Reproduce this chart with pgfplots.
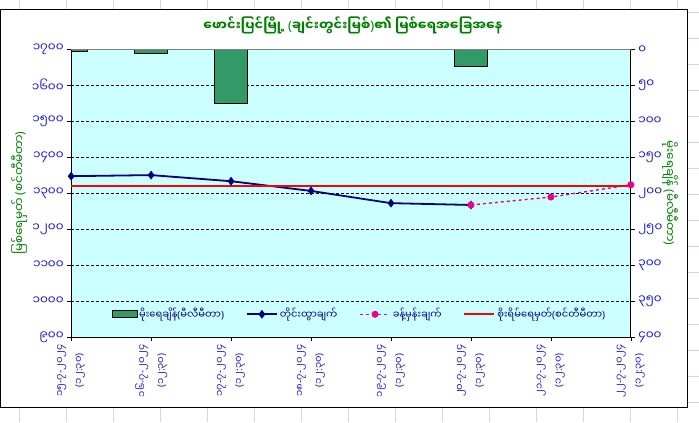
\documentclass[border=0pt]{standalone}
\usepackage{fontspec}
\setmainfont{Noto Sans Myanmar UI}[Script=Myanmar]
\newfontfamily\latf{Noto Sans}
\newcommand\LP{{\latf(}}
\newcommand\RP{{\latf)}}
\newcommand\HY{{\latf-}}
\newcommand\CL{{\latf:}}
\usepackage{pgfplots}
\pgfplotsset{compat=1.18}
\definecolor{plotbg}{HTML}{CCFFFF}
\definecolor{bargreen}{HTML}{339966}
\definecolor{navyb}{HTML}{000080}
\definecolor{tickblue}{HTML}{1A1AD0}
\definecolor{titlegreen}{HTML}{008000}
\definecolor{cellgray}{HTML}{D0D7E5}
\pgfplotsset{
  barlegend/.style={legend image code/.code={\draw[##1] (0pt,-3.5pt) rectangle (25pt,3.5pt);}},
  linelegend/.style={legend image code/.code={\draw[mark repeat=2,mark phase=2,##1] plot coordinates {(0pt,0pt) (15pt,0pt) (30pt,0pt)};}},
}
\begin{document}
\begin{tikzpicture}[x=1pt,y=1pt]
\path[fill=white] (0,0) rectangle (699,422);
\foreach \xx in {19,66,...,699} {\draw[cellgray] (\xx,0) -- (\xx,422);}
\foreach \yy in {20,46,...,422} {\draw[cellgray] (0,\yy) -- (699,\yy);}
\draw[fill=white, line width=1pt] (0.5,14) rectangle (688,413);
% rainfall axis (right, reversed)
\begin{axis}[
  at={(71pt,85pt)}, anchor=south west, scale only axis,
  width=560pt, height=288pt,
  xmin=0, xmax=7, ymin=0, ymax=400, y dir=reverse,
  axis background/.style={fill=plotbg},
  axis x line=none, axis y line*=right,
  ytick={0,50,...,400},
  yticklabels={၀,၅၀,၁၀၀,၁၅၀,၂၀၀,၂၅၀,၃၀၀,၃၅၀,၄၀၀},
  yticklabel style={text=tickblue, font=\fontsize{12}{14}\selectfont},
  ymajorgrids, grid style={densely dashed, black, line width=0.6pt},
  tick align=outside, major tick length=4pt,
  tick style={black},
  axis line style={black, line width=0.8pt},
  ylabel={မိုးရေချိန် \LP မီလီမီတာ\RP},
  ylabel style={rotate=180, text=titlegreen, font=\fontsize{12}{14}\selectfont, at={(axis description cs:1.07,0.5)}, anchor=center},
  ybar, bar width=33pt,
]
\addplot[fill=bargreen, draw=black, line width=0.6pt] coordinates {
 (0,3) (1,5.5) (2,75) (3,0) (4,0) (5,24) (6,0) (7,0)};
\end{axis}
% water level axis (left)
\begin{axis}[
  at={(71pt,85pt)}, anchor=south west, scale only axis,
  width=560pt, height=288pt,
  xmin=0, xmax=7, ymin=900, ymax=1700,
  axis x line*=bottom, axis y line*=left,
  xtick={0,...,7},
  xticklabels={{၁၅\HY၇\HY၂၀၂၄\\\LP၁၂\CL၃၀\RP},{၁၆\HY၇\HY၂၀၂၄\\\LP၁၂\CL၃၀\RP},{၁၇\HY၇\HY၂၀၂၄\\\LP၁၂\CL၃၀\RP},{၁၈\HY၇\HY၂၀၂၄\\\LP၁၂\CL၃၀\RP},{၁၉\HY၇\HY၂၀၂၄\\\LP၁၂\CL၃၀\RP},{၂၀\HY၇\HY၂၀၂၄\\\LP၁၂\CL၃၀\RP},{၂၁\HY၇\HY၂၀၂၄\\\LP၁၂\CL၃၀\RP},{၂၂\HY၇\HY၂၀၂၄\\\LP၁၂\CL၃၀\RP}},
  xticklabel style={rotate=90, anchor=east, align=center, text=tickblue, font=\fontsize{10}{19}\selectfont},
  ytick={900,1000,...,1700},
  yticklabels={၉၀၀,၁၀၀၀,၁၁၀၀,၁၂၀၀,၁၃၀၀,၁၄၀၀,၁၅၀၀,၁၆၀၀,၁၇၀၀},
  yticklabel style={text=tickblue, font=\fontsize{12}{14}\selectfont},
  tick align=outside, major tick length=4pt,
  tick style={black},
  axis line style={black, line width=0.8pt},
  ylabel={မြစ်ရေမှတ် \LP စင်တီမီတာ\RP},
  ylabel style={text=titlegreen, font=\fontsize{12}{14}\selectfont, at={(axis description cs:-0.093,0.5)}, anchor=center},
  clip=false,
  legend columns=4,
  legend style={at={(0.515,0.079)}, anchor=center, draw=none, fill=none,
    font=\fontsize{10}{12}\selectfont, text=navyb,
    /tikz/every even column/.append style={column sep=20pt}},
  legend cell align=left,
]
\addlegendimage{fill=bargreen, draw=black, line width=0.6pt, barlegend}
\addlegendentry{မိုးရေချိန်\LP မီလီမီတာ\RP}
\addplot[navyb, line width=1.8pt, mark=diamond*, mark size=3pt, linelegend] coordinates {
 (0,1347) (1,1350) (2,1333) (3,1306) (4,1272) (5,1267)};
\addlegendentry{တိုင်းထွာချက်}
\addplot[magenta, line width=1.4pt, dashed, mark=*, mark size=2.8pt, mark options={solid}, linelegend] coordinates {
 (5,1267) (6,1289) (7,1323)};
\addlegendentry{ခန့်မှန်းချက်}
\addplot[red, line width=1.6pt, linelegend] coordinates {
 (0,1320) (7,1320)};
\addlegendentry{စိုးရိမ်ရေမှတ်\LP စင်တီမီတာ\RP}
\end{axis}
\draw[gray, line width=0.8pt] (71,373) -- (631,373);
\node[text=titlegreen, font=\bfseries\fontsize{13}{15}\selectfont] at (353,397) {ဖောင်းပြင်မြို့ \LP ချင်းတွင်းမြစ်\RP၏ မြစ်ရေအခြေအနေ};
\end{tikzpicture}
\end{document}
